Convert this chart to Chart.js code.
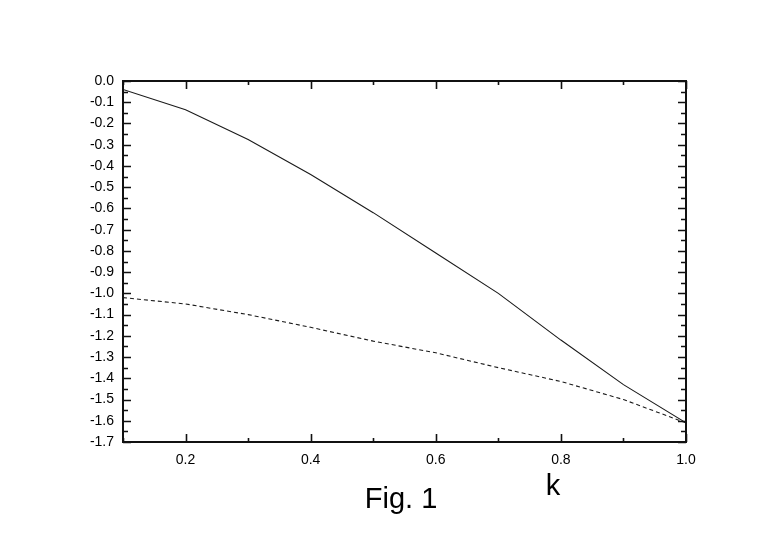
<!DOCTYPE html>
<html>
<head>
<meta charset="utf-8">
<script src="https://cdn.jsdelivr.net/npm/chart.js@4.4.1/dist/chart.umd.min.js"></script>
<style>
  html, body { margin: 0; padding: 0; background: #ffffff; }
  #wrap { width: 770px; height: 545px; }
</style>
</head>
<body>
<div id="wrap"><canvas id="c" width="770" height="545"></canvas></div>
<script>
// ---- data ----
const kValues = [0.1, 0.2, 0.3, 0.4, 0.5, 0.6, 0.7, 0.8, 0.9, 1.0];
const solidSeries = [-0.04, -0.135, -0.275, -0.44, -0.62, -0.81, -1.0, -1.22, -1.43, -1.61];
const dashedSeries = [-1.02, -1.05, -1.10, -1.16, -1.225, -1.28, -1.35, -1.415, -1.50, -1.61];
const xAxisLabel = 'k';
const figureCaption = 'Fig. 1';
const xRange = [0.1, 1.0];
const yRange = [-1.7, 0.0];

const FONT = '"Liberation Sans", Arial, Helvetica, sans-serif';

const framePlugin = {
  id: 'frameTicks',
  afterDraw(chart) {
    const ctx = chart.ctx;
    const a = chart.chartArea;
    const xs = chart.scales.x, ys = chart.scales.y;
    ctx.save();
    ctx.strokeStyle = '#111';
    // ticks
    ctx.lineWidth = 1.6;
    ctx.beginPath();
    xs.ticks.forEach(t => {
      const px = Math.round(xs.getPixelForValue(t.value)) + 0.5;
      const major = Math.round(t.value * 10) % 2 === 0;
      const len = major ? 8 : 4;
      ctx.moveTo(px, a.bottom); ctx.lineTo(px, a.bottom - len);
      ctx.moveTo(px, a.top); ctx.lineTo(px, a.top + len);
    });
    const yt = ys.ticks.map(t => t.value);
    yt.forEach((v, i) => {
      const py = Math.round(ys.getPixelForValue(v)) + 0.5;
      ctx.moveTo(a.left, py); ctx.lineTo(a.left + 8, py);
      ctx.moveTo(a.right, py); ctx.lineTo(a.right - 8, py);
      if (i < yt.length - 1) {
        const pm = Math.round(ys.getPixelForValue((v + yt[i + 1]) / 2)) + 0.5;
        ctx.moveTo(a.left, pm); ctx.lineTo(a.left + 5, pm);
        ctx.moveTo(a.right, pm); ctx.lineTo(a.right - 5, pm);
      }
    });
    ctx.stroke();
    // frame
    ctx.lineWidth = 2;
    ctx.strokeRect(a.left, a.top, a.right - a.left, a.bottom - a.top);
    // texts
    ctx.fillStyle = '#000';
    ctx.textAlign = 'center';
    ctx.textBaseline = 'alphabetic';
    ctx.font = '29px ' + FONT;
    ctx.fillText(xAxisLabel, 553, 495);
    ctx.fillText(figureCaption, 401, 508);
    ctx.restore();
  }
};

const toPts = ys => kValues.map((k, i) => ({ x: k, y: ys[i] }));

new Chart(document.getElementById('c'), {
  type: 'line',
  data: {
    datasets: [
      {
        data: toPts(solidSeries),
        borderColor: '#1a1a1a',
        borderWidth: 1.1,
        pointRadius: 0,
        fill: false,
        tension: 0
      },
      {
        data: toPts(dashedSeries),
        borderColor: '#1a1a1a',
        borderWidth: 1.1,
        borderDash: [4, 3],
        pointRadius: 0,
        fill: false,
        tension: 0
      }
    ]
  },
  options: {
    responsive: false,
    animation: false,
    devicePixelRatio: 1,
    layout: { padding: { top: 81, right: 84, left: 0, bottom: 0 } },
    plugins: { legend: { display: false }, tooltip: { enabled: false } },
    scales: {
      x: {
        type: 'linear',
        min: xRange[0], max: xRange[1],
        grid: { display: false, drawTicks: false },
        border: { display: false },
        afterFit(s) { s.height = 103; },
        ticks: {
          stepSize: 0.1,
          autoSkip: false,
          maxRotation: 0,
          padding: 10,
          color: '#000',
          font: { family: FONT, size: 14 },
          callback: v => (Math.round(v * 10) % 2 === 0 ? v.toFixed(1) : '')
        }
      },
      y: {
        type: 'linear',
        min: yRange[0], max: yRange[1],
        grid: { display: false, drawTicks: false },
        border: { display: false },
        afterFit(s) { s.width = 123; },
        ticks: {
          stepSize: 0.1,
          autoSkip: false,
          padding: 9,
          color: '#000',
          font: { family: FONT, size: 14 },
          callback: v => (Math.abs(v) < 1e-9 ? '0.0' : v.toFixed(1))
        }
      }
    }
  },
  plugins: [framePlugin]
});
</script>
</body>
</html>
